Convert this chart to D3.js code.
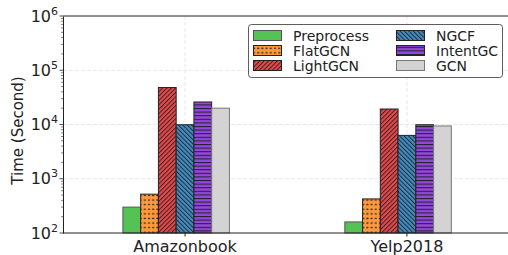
<!DOCTYPE html>
<html>
<head>
<meta charset="utf-8">
<script src="https://cdn.jsdelivr.net/npm/d3@7"></script>
<style>
  body { margin: 0; background: #fff; }
  text { font-family: "DejaVu Sans", sans-serif; }
</style>
</head>
<body>
<div class="chart"></div>
<script>
var datasets = ["Amazonbook", "Yelp2018"]
var methods = ["Preprocess", "FlatGCN", "LightGCN", "NGCF", "IntentGC", "GCN"]
var preprocess = [300, 160]
var flatgcn = [520, 425]
var lightgcn = [48000, 19300]
var ngcf = [9900, 6300]
var intentgc = [26000, 9900]
var gcn = [20000, 9400]
var yTicks = [2, 3, 4, 5, 6]

var series = [preprocess, flatgcn, lightgcn, ngcf, intentgc, gcn]
var fills = ["#55c255", "#ff9a3c", "#e8474a", "#408cc2", "#9546e0", "#d3d3d3"]
var strokes = ["#555", "#222", "#222", "#222", "#222", "#777"]
var hatch = [null, "dots", "fwd", "back", "horiz", null]

var svg = d3.select(".chart").append("svg").attr("width", 508).attr("height", 255)

var defs = svg.append("defs")
function addPattern(id, color, kind) {
  var p = defs.append("pattern").attr("id", id).attr("patternUnits", "userSpaceOnUse")
  if (kind == "dots") {
    p.attr("width", 4.2).attr("height", 4.6)
    p.append("rect").attr("width", 4.2).attr("height", 4.6).attr("fill", color)
    p.append("rect").attr("x", 1).attr("y", 1.6).attr("width", 2).attr("height", 1.3).attr("fill", "#222")
  } else if (kind == "fwd" || kind == "back") {
    p.attr("width", 3.1).attr("height", 6)
      .attr("patternTransform", "rotate(" + (kind == "fwd" ? 45 : -45) + ")")
    p.append("rect").attr("width", 3.1).attr("height", 6).attr("fill", color)
    p.append("line").attr("x1", 0.5).attr("y1", 0).attr("x2", 0.5).attr("y2", 6)
      .attr("stroke", "#222").attr("stroke-width", 0.9)
  } else if (kind == "horiz") {
    p.attr("width", 4).attr("height", 3.6)
    p.append("rect").attr("width", 4).attr("height", 3.6).attr("fill", color)
    p.append("line").attr("x1", 0).attr("y1", 0.5).attr("x2", 4).attr("y2", 0.5)
      .attr("stroke", "#222").attr("stroke-width", 1.1)
  }
}
hatch.forEach((h, i) => { if (h) addPattern("pat" + i, fills[i], h) })
function fillOf(i) { return hatch[i] ? "url(#pat" + i + ")" : fills[i] }

var padL = 63, padT = 16, padB = 233
var x = d3.scaleLinear().domain([-0.55, 1.55]).range([padL, 529])
var y = d3.scaleLog().domain([100, 1e6]).range([padB, padT])
var bw = 0.08

// grid
svg.append("g").selectAll("line").data(yTicks.slice(1, -1)).enter().append("line")
  .attr("x1", padL).attr("x2", 508)
  .attr("y1", d => y(Math.pow(10, d))).attr("y2", d => y(Math.pow(10, d)))
  .attr("stroke", "#e2e2e2").attr("stroke-dasharray", "4,2").attr("stroke-width", 0.8)
svg.append("g").selectAll("line").data(datasets).enter().append("line")
  .attr("x1", (d, i) => x(i)).attr("x2", (d, i) => x(i))
  .attr("y1", padT).attr("y2", padB)
  .attr("stroke", "#e2e2e2").attr("stroke-dasharray", "4,2").attr("stroke-width", 0.8)

// bars
series.forEach((vals, j) => {
  svg.append("g").selectAll("rect").data(vals).enter().append("rect")
    .attr("x", (d, i) => x(i + (j - 3.5) * bw))
    .attr("width", x(bw) - x(0))
    .attr("y", d => y(d))
    .attr("height", d => padB - y(d))
    .attr("fill", fillOf(j))
    .attr("stroke", strokes[j]).attr("stroke-width", 1)
})

// axes
var yAxis = d3.axisLeft(y).tickValues([]).tickSizeOuter(0)
svg.append("g").attr("transform", "translate(" + padL + ",0)").call(yAxis)
  .select(".domain").attr("stroke", "#222")
var minor = []
for (var e = 2; e < 6; e++) for (var k = 2; k < 10; k++) minor.push(k * Math.pow(10, e))
svg.append("g").selectAll("line").data(minor).enter().append("line")
  .attr("x1", padL - 2).attr("x2", padL).attr("y1", d => y(d)).attr("y2", d => y(d))
  .attr("stroke", "#333").attr("stroke-width", 0.6)
svg.append("g").selectAll("line").data(yTicks).enter().append("line")
  .attr("x1", padL - 3.5).attr("x2", padL).attr("y1", d => y(Math.pow(10, d))).attr("y2", d => y(Math.pow(10, d)))
  .attr("stroke", "#222").attr("stroke-width", 0.8)
var yl = svg.append("g").selectAll("text").data(yTicks).enter().append("text")
  .attr("x", padL - 5).attr("y", d => y(Math.pow(10, d)) + 5.5)
  .attr("text-anchor", "end").style("font-size", "16px").attr("fill", "#222")
yl.append("tspan").text("10")
yl.append("tspan").attr("dy", -7).style("font-size", "11px").text(d => d)

svg.append("line").attr("x1", padL).attr("x2", 508).attr("y1", padB).attr("y2", padB).attr("stroke", "#222")
svg.append("line").attr("x1", padL).attr("x2", 508).attr("y1", padT).attr("y2", padT).attr("stroke", "#222")

svg.append("g").selectAll("line").data(datasets).enter().append("line")
  .attr("x1", (d, i) => x(i)).attr("x2", (d, i) => x(i)).attr("y1", padB).attr("y2", padB + 3.5)
  .attr("stroke", "#222")
svg.append("g").selectAll("text").data(datasets).enter().append("text")
  .attr("x", (d, i) => x(i)).attr("y", 252).attr("text-anchor", "middle")
  .style("font-size", "16px").attr("fill", "#222").text(d => d)

svg.append("text").attr("transform", "translate(23," + ((padT + padB) / 2 + 6) + ") rotate(-90)")
  .attr("text-anchor", "middle").style("font-size", "15px").attr("fill", "#222").text("Time (Second)")

// legend
var lg = svg.append("g")
lg.append("rect").attr("x", 248.5).attr("y", 24.5).attr("width", 254).attr("height", 53).attr("rx", 3)
  .attr("fill", "#fff").attr("fill-opacity", 0.85).attr("stroke", "#333").attr("stroke-width", 0.8)
methods.forEach((m, j) => {
  var col = Math.floor(j / 3), row = j % 3
  var hx = col == 0 ? 253.5 : 396.5, hy = 30.5 + row * 15
  lg.append("rect").attr("x", hx).attr("y", hy).attr("width", 28).attr("height", 10)
    .attr("fill", fillOf(j)).attr("stroke", strokes[j]).attr("stroke-width", 1)
  lg.append("text").attr("x", col == 0 ? 293 : 436).attr("y", hy + 10)
    .style("font-size", "14px").attr("fill", "#222").text(m)
})
</script>
</body>
</html>
